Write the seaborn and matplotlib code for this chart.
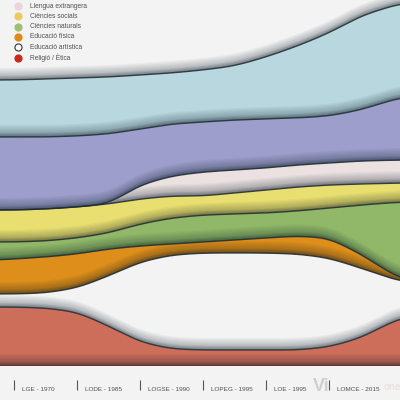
import numpy as np
import pandas as pd
import matplotlib
matplotlib.use("Agg")
from matplotlib import pyplot as plt
import seaborn as sns

# positions along the law timeline (tick units)
x_pos = [-0.25, 0, 0.5, 1, 1.5, 2, 2.5, 3, 3.5, 4, 4.5, 5, 5.5, 6.15]
laws = ['LGE - 1970', 'LODE - 1985', 'LOGSE - 1990', 'LOPEG - 1995', 'LOE - 1995', 'LOMCE - 2015']

# layer thickness, bottom to top
religio   = [59, 59, 58, 54, 40, 24, 17, 16, 16, 16, 16, 19, 28, 49]
artistica = [13, 13, 15, 24, 50, 80, 94, 97, 97, 97, 96, 89, 70, 35]
fisica    = [34, 35, 36, 34, 27, 16, 11, 11, 13, 15, 18, 20, 14, 2]
naturals  = [18, 17, 16, 16, 16, 22, 26, 27, 26, 25, 25, 30, 49, 78]
socials   = [32, 32, 32, 31, 29, 25, 22, 19, 21, 23, 24, 23, 21, 19]
extranj   = [0, 0, 0, 0, 0, 14, 20, 24, 23, 22, 22, 22, 23, 23]
capa2     = [73, 73, 72, 71, 70, 56, 52, 50, 50, 49, 47, 47, 51, 63]
capa1     = [57, 57, 58, 58, 57, 54, 51, 52, 54, 62, 72, 83, 94, 94]
capa0     = [80, 80, 79, 78, 77, 75, 73, 70, 66, 57, 46, 33, 16, 3]

names = ['Religió / Ètica', 'Educació artística', 'Educació física', 'Ciències naturals',
         'Ciències socials', 'Llengua extrangera', 'capa2', 'capa1', 'capa0']
colors = ['#cd6e5b', '#f3f3f3', '#de8e1a', '#90b868', '#e9df70', '#ebe1e1',
          '#9d9ecb', '#b8d7df', '#f3f3f3']
df = pd.DataFrame(dict(zip(names, [religio, artistica, fisica, naturals, socials,
                                    extranj, capa2, capa1, capa0])), index=x_pos)

leg_names = ['Llengua extrangera', 'Ciències socials', 'Ciències naturals',
             'Educació física', 'Educació artística', 'Religió / Ètica']
leg_cols = ['#ecd3dc', '#ebcb5b', '#9fbf73', '#df8a12', '#ffffff', '#c9261c']

sns.set_style("white")
plt.rcParams['font.family'] = ['Liberation Sans', 'DejaVu Sans']

fig = plt.figure(figsize=(4, 4), dpi=100, facecolor='#f3f3f3')
ax = fig.add_axes([0, 34 / 400, 1, 366 / 400])
ax.set_facecolor('#f3f3f3')

# smooth rendering of the stacked boundaries
xs = np.linspace(x_pos[0], x_pos[-1], 900)
sig = 0.17 / (xs[1] - xs[0])
kx = np.arange(-int(3 * sig), int(3 * sig) + 1)
kern = np.exp(-0.5 * (kx / sig) ** 2)
kern /= kern.sum()
half = len(kx) // 2


def smooth(v):
    lin = np.interp(xs, x_pos, v)
    pad = np.pad(lin, half, mode='edge')
    return np.convolve(pad, kern, mode='valid')


lower = np.zeros_like(xs)
for name, col in zip(names, colors):
    th = smooth(df[name].values)
    upper = lower + th
    ax.fill_between(xs, lower, upper, color=col, lw=0)
    # paper-cut shadow along the bottom edge
    for k in range(10):
        d = 12 * (k + 1) / 10
        ax.fill_between(xs, lower, np.minimum(lower + d, upper), color='#0c1c28',
                        alpha=0.04, lw=0)
    for k in range(3):
        d = 4 * (k + 1) / 3
        ax.fill_between(xs, lower, np.minimum(lower + d, upper), color='#0c1c28',
                        alpha=0.09, lw=0)
    ax.plot(xs, lower, color='#1d2a30', lw=1.0, alpha=0.85)
    lower = upper

ax.set_xlim(-14 / 63, 386 / 63)
ax.set_ylim(0, 366)
ax.set_yticks([])
ax.set_xticks(range(len(laws)))
ax.set_xticklabels([])
for s in ['top', 'left', 'right', 'bottom']:
    ax.spines[s].set_visible(False)
ax.spines['bottom'].set_position(('outward', 10))
ax.tick_params(axis='x', direction='out', length=7.5, width=0.8, color='#555555', bottom=True)

# faint watermark
ax.text(4.75, -0.056, 'Vi', transform=ax.get_xaxis_transform(), fontsize=13,
        fontweight='bold', color='#cfcfcf', va='center', ha='left')
ax.text(5.86, -0.058, 'one', transform=ax.get_xaxis_transform(), fontsize=7,
        fontweight='bold', color='#ece2e2', va='center', ha='left')

for i, lab in enumerate(laws):
    ax.text(i + 0.13, -0.065, lab, transform=ax.get_xaxis_transform(), fontsize=4.6,
            color='#505050', va='center', ha='left')

# legend drawn on an overlay in pixel coordinates
lax = fig.add_axes([0, 0, 1, 1])
lax.set_xlim(0, 400)
lax.set_ylim(400, 0)
lax.axis('off')
for i, (lab, c) in enumerate(zip(leg_names, leg_cols)):
    y = 6 + 10.3 * i
    lax.scatter(18, y, s=26, color=c, edgecolor=('#333333' if c == '#ffffff' else c),
                linewidth=0.8, zorder=3)
    lax.text(30, y, lab, fontsize=4.8, color='#505050', va='center', ha='left')

fig.savefig('out.png', dpi=100, facecolor=fig.get_facecolor())
